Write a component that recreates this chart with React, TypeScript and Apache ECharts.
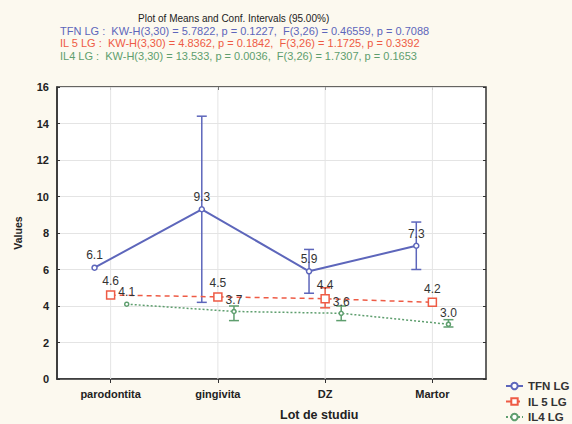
import React, { useEffect, useRef } from "react";
import * as echarts from "echarts";

const categories = ["parodontita", "gingivita", "DZ", "Martor"];
const seriesNames = ["TFN LG", "IL 5 LG", "IL4 LG"];

const tfnMean = [6.1, 9.3, 5.9, 7.3];
const tfnLow = [null, 4.2, 4.7, 6.0];
const tfnHigh = [null, 14.4, 7.1, 8.6];

const il5Mean = [4.6, 4.5, 4.4, 4.2];
const il5Low = [null, null, 3.9, null];
const il5High = [null, null, 5.0, null];

const il4Mean = [4.1, 3.7, 3.6, 3.0];
const il4Low = [null, 3.2, 3.2, 2.85];
const il4High = [null, 4.0, 4.0, 3.25];

const yTicks = [0, 2, 4, 6, 8, 10, 12, 14, 16];

const titleLine = "Plot of Means and Conf. Intervals (95.00%)";
const statLines = [
  "TFN LG :  KW-H(3,30) = 5.7822, p = 0.1227,  F(3,26) = 0.46559, p = 0.7088",
  "IL 5 LG :  KW-H(3,30) = 4.8362, p = 0.1842,  F(3,26) = 1.1725, p = 0.3392",
  "IL4 LG :  KW-H(3,30) = 13.533, p = 0.0036,  F(3,26) = 1.7307, p = 0.1653",
];
const xAxisTitle = "Lot de studiu";
const yAxisTitle = "Values";

const colors = ["#5d66bb", "#ee5b45", "#5e9e6e"];

export default function App() {
  const ref = useRef<HTMLDivElement>(null);
  useEffect(() => {
    if (!ref.current) return;
    const chart = echarts.init(ref.current, null, { renderer: "svg" });
    const offsets = [-0.15, 0, 0.15];
    const means = [tfnMean, il5Mean, il4Mean];
    const lows = [tfnLow, il5Low, il4Low];
    const highs = [tfnHigh, il5High, il4High];
    const symbols = ["circle", "rect", "circle"];
    const symbolSizes = [5, 8, 4];
    const lineTypes: any[] = ["solid", [5, 4], [2, 2]];
    const font = "Liberation Sans, Arial, sans-serif";

    const lineSeries = means.map((m, s) => ({
      name: seriesNames[s],
      type: "line",
      xAxisIndex: 1,
      yAxisIndex: 0,
      data: m.map((v, i) => [i + offsets[s], v]),
      symbol: symbols[s],
      symbolSize: symbolSizes[s],
      showAllSymbol: true,
      color: colors[s],
      itemStyle: { color: "#fff", borderColor: colors[s], borderWidth: 1.5 },
      lineStyle: { color: colors[s], width: s === 0 ? 2 : 1.5, type: lineTypes[s] },
      label: {
        show: true,
        position: "top",
        distance: 3,
        color: "#333",
        fontSize: 12,
        fontFamily: font,
        formatter: (p: any) => p.value[1].toFixed(1),
      },
      z: 3,
    }));

    const errSeries = means.map((m, s) => ({
      type: "custom",
      xAxisIndex: 1,
      yAxisIndex: 0,
      data: m
        .map((_, i) => [i + offsets[s], lows[s][i], highs[s][i]])
        .filter((d) => d[1] != null),
      encode: { x: 0, y: [1, 2] },
      renderItem: (params: any, api: any) => {
        const x = api.value(0);
        const top = api.coord([x, api.value(2)]);
        const bot = api.coord([x, api.value(1)]);
        const hw = 5;
        const style = { stroke: colors[s], lineWidth: 1.5 };
        return {
          type: "group",
          children: [
            { type: "line", shape: { x1: top[0], y1: top[1], x2: bot[0], y2: bot[1] }, style },
            { type: "line", shape: { x1: top[0] - hw, y1: top[1], x2: top[0] + hw, y2: top[1] }, style },
            { type: "line", shape: { x1: bot[0] - hw, y1: bot[1], x2: bot[0] + hw, y2: bot[1] }, style },
          ],
        };
      },
      z: 2,
    }));

    // vertical grid lines at category centres
    const gridSeries = {
      type: "custom",
      xAxisIndex: 0,
      yAxisIndex: 0,
      silent: true,
      data: categories.map((c) => [c, 0, 16]),
      encode: { x: 0, y: [1, 2] },
      renderItem: (params: any, api: any) => {
        const top = api.coord([api.value(0), api.value(2)]);
        const bot = api.coord([api.value(0), api.value(1)]);
        return {
          type: "line",
          shape: { x1: top[0], y1: top[1], x2: bot[0], y2: bot[1] },
          style: { stroke: "#e4e4e4", lineWidth: 1 },
        };
      },
      z: 1,
    };

    chart.setOption({
      animation: false,
      backgroundColor: "#fcf9ef",
      textStyle: { fontFamily: font },
      grid: {
        left: 57,
        right: 86,
        top: 87,
        bottom: 45,
        show: true,
        backgroundColor: "#ffffff",
        borderColor: "#333",
        borderWidth: 1.5,
      },
      graphic: [
        {
          type: "text",
          left: 138,
          top: 13,
          style: { text: titleLine, fill: "#222", font: `10px ${font}` },
        },
        ...statLines.map((t, i) => ({
          type: "text",
          left: 60,
          top: 25 + i * 12.5,
          style: { text: t, fill: colors[i], font: `11px ${font}` },
        })),
        {
          type: "text",
          left: 280,
          top: 408,
          style: { text: xAxisTitle, fill: "#222", font: `bold 12.5px ${font}` },
        },
      ],
      legend: {
        orient: "vertical",
        left: 505,
        top: 379,
        padding: 0,
        itemGap: 1.5,
        itemWidth: 17,
        itemHeight: 8,
        data: seriesNames,
        textStyle: { fontSize: 11.5, lineHeight: 14, fontWeight: "bold", color: "#333", fontFamily: font },
      },
      xAxis: [
        {
          type: "category",
          data: categories,
          boundaryGap: true,
          axisLine: { show: true, onZero: false, lineStyle: { color: "#333", width: 1.5 } },
          axisTick: { show: true, alignWithLabel: true, length: 4, lineStyle: { color: "#333" } },
          axisLabel: { fontSize: 11, fontWeight: "bold", color: "#222", margin: 9 },
          splitLine: { show: false },
        },
        {
          type: "value",
          min: -0.5,
          max: 3.5,
          show: false,
          axisLine: { show: false, onZero: false },
          splitLine: { show: false },
        },
        {
          type: "category",
          data: categories,
          position: "top",
          boundaryGap: true,
          axisLine: { show: false, onZero: false },
          axisTick: { show: true, alignWithLabel: true, inside: true, length: 3, lineStyle: { color: "#333" } },
          axisLabel: { show: false },
          splitLine: { show: false },
        },
      ],
      yAxis: [
        {
          type: "value",
          min: 0,
          max: 16,
          interval: 2,
          name: yAxisTitle,
          nameLocation: "middle",
          nameGap: 34,
          nameTextStyle: { fontSize: 10.5, fontWeight: "bold", color: "#222" },
          axisLine: { show: true, onZero: false, lineStyle: { color: "#333", width: 1.5 } },
          axisTick: { show: true, inside: true, length: 3, lineStyle: { color: "#333" } },
          axisLabel: {
            fontSize: 11,
            fontWeight: "bold",
            color: "#222",
            margin: 8,
            formatter: (v: number) => (yTicks.includes(v) ? String(v) : ""),
          },
          splitLine: { show: true, lineStyle: { color: "#e4e4e4" } },
        },
        {
          type: "value",
          min: 0,
          max: 16,
          interval: 2,
          position: "right",
          axisLine: { show: false, onZero: false },
          axisTick: { show: true, inside: true, length: 3, lineStyle: { color: "#333" } },
          axisLabel: { show: false },
          splitLine: { show: false },
        },
      ],
      series: [...lineSeries, gridSeries, ...errSeries],
    });
    return () => chart.dispose();
  }, []);
  return <div ref={ref} style={{ width: 572, height: 424, position: "absolute", left: 0, top: 0 }} />;
}
